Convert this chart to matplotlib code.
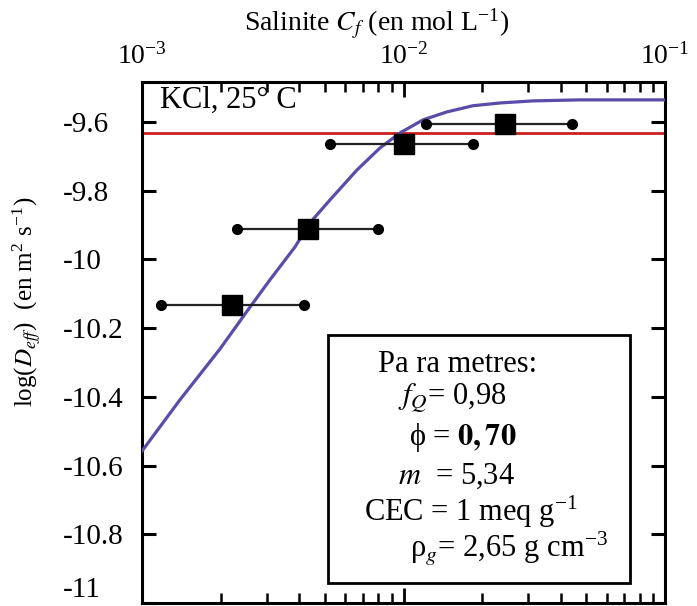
import matplotlib
matplotlib.use("Agg")
import matplotlib.pyplot as plt
from matplotlib.patches import Rectangle
from matplotlib.ticker import LogLocator, NullFormatter, FixedLocator

plt.rcParams['font.family'] = ['Liberation Serif', 'DejaVu Serif']
plt.rcParams['mathtext.fontset'] = 'stix'

# Model curve
curve_cf = [1.0e-3, 1.396e-3, 1.986e-3, 2.588e-3, 3.083e-3, 3.846e-3, 4.385e-3,
            5.236e-3, 6.637e-3, 8.128e-3, 9.705e-3, 1.189e-2, 1.466e-2, 1.845e-2,
            2.339e-2, 3.126e-2, 4.732e-2, 6.730e-2, 1.0e-1]
curve_logd = [-10.558, -10.409, -10.261, -10.139, -10.060, -9.964, -9.894,
              -9.827, -9.740, -9.676, -9.632, -9.594, -9.571, -9.553,
              -9.545, -9.539, -9.536, -9.536, -9.536]

# Measured points with horizontal ranges
pt_cf = [2.2e-3, 4.3e-3, 1.0e-2, 2.45e-2]
pt_logd = [-10.133, -9.912, -9.664, -9.606]
pt_cf_lo = [1.18e-3, 2.3e-3, 5.25e-3, 1.22e-2]
pt_cf_hi = [4.15e-3, 8.0e-3, 1.85e-2, 4.4e-2]

ref_logd = -9.632

yticks = [-9.6, -9.8, -10.0, -10.2, -10.4, -10.6, -10.8, -11.0]
ytick_labels = ['-9.6', '-9.8', '-10', '-10.2', '-10.4', '-10.6', '-10.8', '-11']
xticks = [1e-3, 1e-2, 1e-1]
xtick_labels = [r'$\mathregular{10^{-3}}$', r'$\mathregular{10^{-2}}$', r'$\mathregular{10^{-1}}$']

W, H = 697, 606
fig = plt.figure(figsize=(W/100, H/100), dpi=100)
L, R, T, B = 142, 665, 82, 603
ax = fig.add_axes([L/W, 1-B/H, (R-L)/W, (B-T)/H])

ax.set_xscale('log')
ax.set_xlim(1e-3, 1e-1)
ax.set_ylim(-11.0, -9.484)

ax.axhline(ref_logd, color='#cc1f1f', lw=2.0, zorder=2)
ax.plot(curve_cf, curve_logd, color='#5a4ca8', lw=2.3, zorder=3)

for lo, hi, y in zip(pt_cf_lo, pt_cf_hi, pt_logd):
    ax.plot([lo, hi], [y, y], color='#222222', lw=1.6, marker='o', ms=7,
            mfc='black', mec='black', zorder=4)
ax.plot(pt_cf, pt_logd, ls='none', marker='s', ms=14, mfc='black', mec='black', zorder=5)

# ticks
ax.xaxis.set_major_locator(FixedLocator(xticks))
ax.set_xticklabels(xtick_labels)
ax.xaxis.set_minor_locator(LogLocator(base=10, subs=range(2, 10)))
ax.xaxis.set_minor_formatter(NullFormatter())
ax.tick_params(axis='x', which='both', top=True, bottom=True, labeltop=True,
               labelbottom=False, direction='in')
ax.tick_params(axis='x', which='major', length=11, width=2, labelsize=20, pad=9)
ax.tick_params(axis='x', which='minor', length=7, width=1.8)
ax.set_yticks(yticks)
ax.set_yticklabels(ytick_labels)
ax.tick_params(axis='y', which='both', left=True, right=True, direction='in',
               length=10, width=2.2, labelsize=21, pad=(L-63)*0.72)
for lab in ax.get_yticklabels():
    lab.set_horizontalalignment('left')
ax.get_yticklabels()[-1].set_verticalalignment('bottom')

for s in ax.spines.values():
    s.set_linewidth(2.2)

fig.text(377/W, 1-24/H, r'Salinite $C_f$ (en mol L$^{\mathregular{-1}}$)', fontsize=20,
         ha='center', va='center')
ax.set_ylabel(r'log($D_{eff}$)  (en m$^{\mathregular{2}}$ s$^{\mathregular{-1}}$)', fontsize=18)
ax.yaxis.label.set_verticalalignment('center')
ax.yaxis.set_label_coords((27-L)/(R-L), (B-302)/(B-T))

def ya(py):
    return (B-py)/(B-T)

def xa(px):
    return (px-L)/(R-L)

ax.text(xa(160), ya(100), 'KCl, 25° C', transform=ax.transAxes, fontsize=22,
        va='center', ha='left')

# parameter box
ax.add_patch(Rectangle((xa(328), ya(583)), xa(630)-xa(328), ya(335)-ya(583),
                       transform=ax.transAxes, fill=True, fc='white', ec='black',
                       lw=2.0, zorder=6))

fs = 22
kw = dict(transform=ax.transAxes, fontsize=fs, ha='center', va='center', zorder=7)
ax.text(xa(458), ya(365), 'Pa ra metres:', **kw)
ax.text(xa(452), ya(398), r'$f_Q$= 0,98', **kw)
ax.text(xa(463), ya(437), r'ϕ = $\mathbf{0,70}$', **kw)
ax.text(xa(456), ya(476), r'$m$  = 5,34', **kw)
ax.text(xa(471), ya(512), r'CEC = 1 meq g$^{\mathregular{-1}}$', **kw)
ax.text(xa(509), ya(548), r'ρ$_g$= 2,65 g cm$^{\mathregular{-3}}$', **kw)

fig.savefig('out.png', dpi=100)
